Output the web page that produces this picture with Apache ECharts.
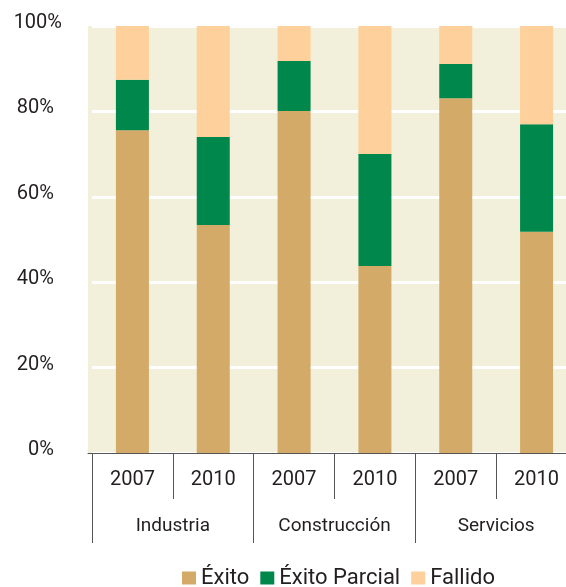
<!DOCTYPE html>
<html>
<head>
<meta charset="utf-8">
<script src="https://cdn.jsdelivr.net/npm/echarts@6/dist/echarts.min.js"></script>
<style>
  html, body { margin: 0; padding: 0; background: #fff; }
  #chart { width: 566px; height: 587px; }
</style>
</head>
<body>
<div id="chart"></div>
<script>
// years on the first axis row, sectors on the second
const years = ['2007', '2010', '2007', '2010', '2007', '2010'];
const sectors = ['Industria', 'Construcción', 'Servicios'];

// shares in %
const exito = [75.6, 53.4, 80.1, 43.8, 83.1, 51.8];
const exitoParcial = [11.8, 20.6, 11.7, 26.2, 8.0, 25.2];
const fallido = [12.6, 26.0, 8.2, 30.0, 8.9, 23.0];

const textColor = '#231f20';
const lineColor = '#555';
const font = 'Roboto';

const chart = echarts.init(document.getElementById('chart'));

const bar = (name, data, color) => ({
  name: name,
  type: 'bar',
  stack: 'total',
  xAxisIndex: 1,
  yAxisIndex: 1,
  barWidth: 33,
  itemStyle: { color: color },
  data: data
});

const option = {
  animation: false,
  grid: [
    // background panel, starts a little left of the first category;
    // the plot runs past the right edge of the picture
    { left: 88, width: 489, top: 26, bottom: 134, outerBoundsMode: 'none', show: true, backgroundColor: '#f2efda', borderWidth: 0 },
    { left: 92, width: 485, top: 26, bottom: 134, outerBoundsMode: 'none' }
  ],
  legend: {
    left: 177,
    top: 562,
    itemWidth: 14,
    itemHeight: 13,
    itemGap: 11,
    icon: 'rect',
    textStyle: { fontFamily: font, fontSize: 22, color: textColor, lineHeight: 22 },
    data: ['Éxito', 'Éxito Parcial', 'Fallido']
  },
  xAxis: [
    {
      gridIndex: 0,
      type: 'value',
      axisLine: { show: true, lineStyle: { color: lineColor, width: 1 } },
      axisTick: { show: false },
      axisLabel: { show: false },
      splitLine: { show: false }
    },
    {
      gridIndex: 1,
      type: 'category',
      data: years,
      position: 'bottom',
      axisLine: { show: true, lineStyle: { color: lineColor, width: 1 } },
      axisTick: { show: true, length: 46, lineStyle: { color: lineColor, width: 1 } },
      axisLabel: { margin: 17, fontFamily: font, fontSize: 20, color: textColor }
    },
    {
      gridIndex: 1,
      type: 'category',
      data: sectors,
      position: 'bottom',
      axisLine: { show: false },
      axisTick: { show: true, length: 90, lineStyle: { color: lineColor, width: 1 } },
      axisLabel: { margin: 64, fontFamily: font, fontSize: 19, color: textColor }
    }
  ],
  yAxis: [
    { gridIndex: 0, type: 'value', show: false, min: 0, max: 100 },
    {
      gridIndex: 1,
      type: 'value',
      min: 0,
      max: 100,
      interval: 20,
      axisLine: { show: false },
      axisTick: { show: false },
      splitLine: { show: true, lineStyle: { color: '#ffffff', width: 3 } },
      axisLabel: {
        // "100%" sits a bit further right than the other labels
        formatter: (v) => v === 100 ? '{w|100%}' : '{n|' + v + '%}',
        rich: {
          w: { fontFamily: font, fontSize: 20, color: textColor },
          n: { fontFamily: font, fontSize: 20, color: textColor, padding: [0, 8, 0, 0] }
        },
        margin: 30,
        padding: [0, 0, 6, 0],
        fontFamily: font,
        fontSize: 20,
        color: textColor
      }
    }
  ],
  series: [
    bar('Éxito', exito, '#d3aa68'),
    bar('Éxito Parcial', exitoParcial, '#00874b'),
    bar('Fallido', fallido, '#fdd09c')
  ]
};

chart.setOption(option);
</script>
</body>
</html>
